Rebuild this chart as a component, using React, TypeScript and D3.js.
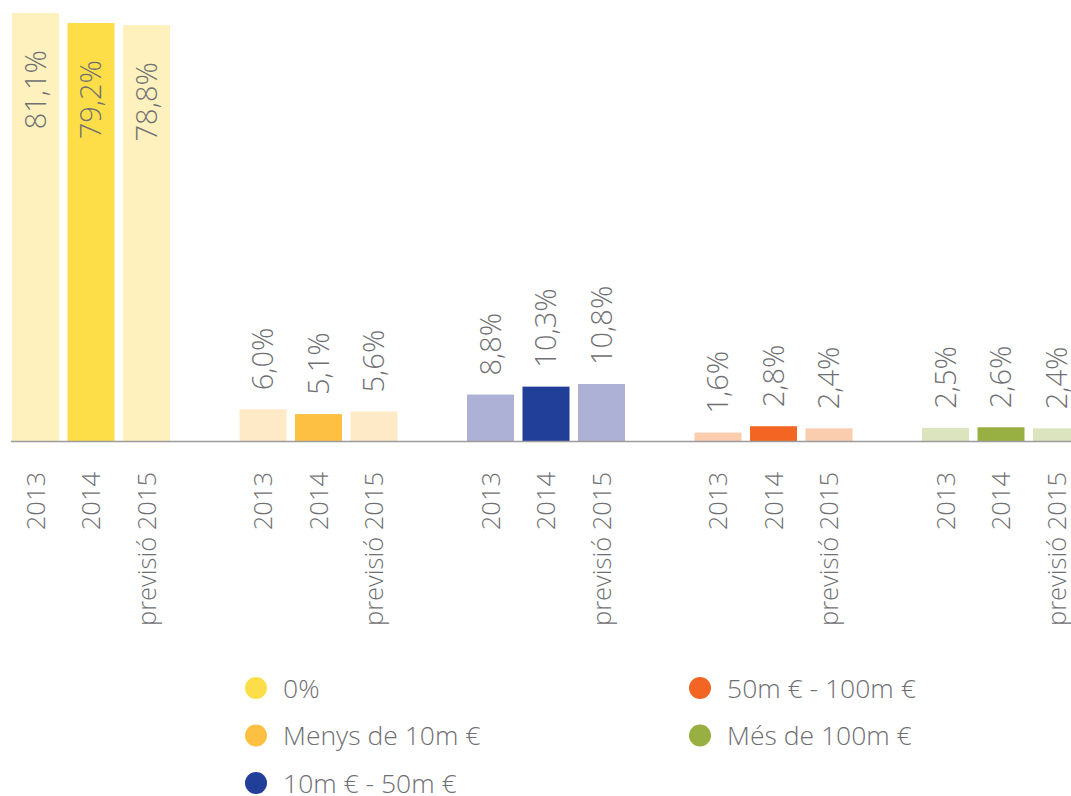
import React from "react";
import * as d3 from "d3";

const groups = ["0%", "Menys de 10m €", "10m € - 50m €", "50m € - 100m €", "Més de 100m €"];
const years = ["2013", "2014", "previsió 2015"];
const values2013 = [81.1, 6.0, 8.8, 1.6, 2.5];
const values2014 = [79.2, 5.1, 10.3, 2.8, 2.6];
const values2015 = [78.8, 5.6, 10.8, 2.4, 2.4];
const darkColors = ["#FEDE48", "#FEC042", "#213F99", "#F26522", "#98B042"];
const lightColors = ["#FEF1BD", "#FEEAC6", "#AEB1D6", "#FACDAE", "#DCE3BF"];

const W = 1071;
const H = 796;
const baseY = 441;
const textColor = "#6f7073";
const font = "'Open Sans', 'Noto Sans', sans-serif";

export default function App() {
  const series = [values2013, values2014, values2015];
  const x0 = d3.scalePoint<string>().domain(groups).range([91, 1001]);
  const x1 = d3.scaleBand<string>().domain(years).range([-79, 79]).paddingInner(0.153).paddingOuter(0);
  const y = d3.scaleLinear().domain([0, 81.1]).range([baseY, 13]);
  const bw = x1.bandwidth();

  const fmt = (v: number) => v.toFixed(1).replace(".", ",") + "%";

  const legendLeft = [0, 1, 2];
  const legendRight = [3, 4];

  return (
    <svg width={W} height={H} style={{ position: "fixed", left: 0, top: 0, background: "#fff" }} fontFamily={font}>
      {groups.map((g, gi) => (
        <g key={g}>
          {years.map((yr, yi) => {
            const v = series[yi][gi];
            const bx = (x0(g) as number) + (x1(yr) as number);
            const cx = bx + bw / 2;
            const top = y(v);
            const inside = v > 50;
            return (
              <g key={yr}>
                <rect x={bx} y={top} width={bw} height={baseY - top} fill={yi === 1 ? darkColors[gi] : lightColors[gi]} />
                <text
                  transform={`translate(${cx},${inside ? top + 37 : top - 19}) rotate(-90)`}
                  textAnchor={inside ? "end" : "start"}
                  dy="0.36em"
                  fontSize={29}
                  fontWeight={300}
                  fill={textColor}
                >
                  {fmt(v)}
                </text>
                <text
                  transform={`translate(${cx},472) rotate(-90)`}
                  textAnchor="end"
                  dy="0.36em"
                  fontSize={25.5}
                  fontWeight={300}
                  fill={textColor}
                >
                  {yr}
                </text>
              </g>
            );
          })}
        </g>
      ))}
      <line x1={11} x2={W} y1={baseY + 0.5} y2={baseY + 0.5} stroke="#9b9b9b" strokeWidth={1.5} />
      {legendLeft.map((gi, i) => (
        <g key={"l" + gi} transform={`translate(256,${688 + i * 47.5})`}>
          <circle r={11} fill={darkColors[gi]} />
          <text x={27} dy="0.36em" fontSize={26.5} fontWeight={300} fill={textColor}>
            {groups[gi]}
          </text>
        </g>
      ))}
      {legendRight.map((gi, i) => (
        <g key={"r" + gi} transform={`translate(700,${688 + i * 47.5})`}>
          <circle r={11} fill={darkColors[gi]} />
          <text x={27} dy="0.36em" fontSize={26.5} fontWeight={300} fill={textColor}>
            {groups[gi]}
          </text>
        </g>
      ))}
    </svg>
  );
}
